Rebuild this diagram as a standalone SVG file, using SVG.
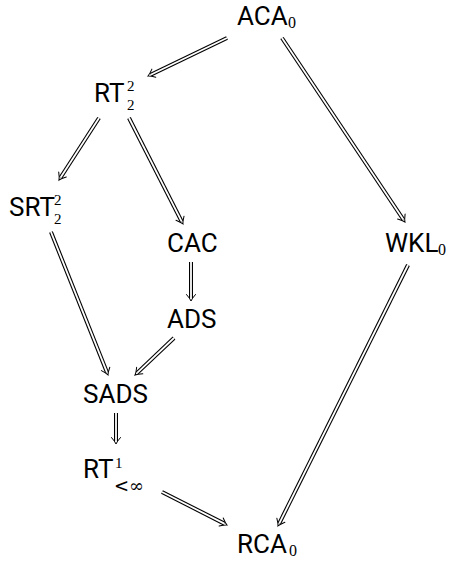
<svg xmlns="http://www.w3.org/2000/svg" width="449" height="562" viewBox="0 0 449 562">
<style>
text{font-family:Roboto,"Liberation Sans",sans-serif;font-size:26px;fill:#000}
.s{font-family:"Liberation Serif",serif;font-size:16px}
.t{font-family:"Liberation Serif",serif;font-size:15px}
.d{font-family:"DejaVu Serif",serif;font-size:18px}
.o{fill:none;stroke:#000;stroke-width:4}
.i{fill:none;stroke:#fff;stroke-width:1.8;marker-end:url(#ah)}
</style>
<defs>
<marker id="ah" markerUnits="userSpaceOnUse" viewBox="-8 -6 10 12" refX="-3" refY="0" markerWidth="10" markerHeight="12" orient="auto" overflow="visible">
<path d="M-6.5,-4.5 Q-2.5,-1 0,0 Q-2.5,1 -6.5,4.5" fill="none" stroke="#000" stroke-width="1" stroke-linecap="round"/>
</marker>
</defs>
<g id="ACA0"><text x="237" y="25">ACA<tspan class="s" x="288" y="28">0</tspan></text></g>
<g id="RT22"><text x="94" y="102">RT<tspan class="t" x="127" y="90.5">2</tspan><tspan class="t" x="127" y="109.5">2</tspan></text></g>
<g id="SRT22"><text x="9" y="216">SRT<tspan class="t" x="54" y="204.5">2</tspan><tspan class="t" x="54" y="223.5">2</tspan></text></g>
<g id="CAC"><text x="167" y="252">CAC</text></g>
<g id="WKL0"><text x="385" y="252">WKL<tspan class="s" x="438" y="255">0</tspan></text></g>
<g id="ADS"><text x="167" y="328">ADS</text></g>
<g id="SADS"><text x="83" y="403">SADS</text></g>
<g id="RT1"><text x="83" y="478">RT<tspan class="t" x="115" y="468">1</tspan><tspan class="d" x="114" y="492">&lt;∞</tspan></text></g>
<g id="RCA0"><text x="237" y="553">RCA<tspan class="s" x="289" y="556">0</tspan></text></g>
<g id="connectors">
<path class="o" d="M227,38L150.7,74.7"/><path class="i" d="M227,38L150.7,74.7"/>
<path class="o" d="M282,38L403.3,219.5"/><path class="i" d="M282,38L403.3,219.5"/>
<path class="o" d="M99,118L60.6,177.5"/><path class="i" d="M99,118L60.6,177.5"/>
<path class="o" d="M129,118L181.6,221.3"/><path class="i" d="M129,118L181.6,221.3"/>
<path class="o" d="M191,262L191,298"/><path class="i" d="M191,262L191,298"/>
<path class="o" d="M408,265L279.3,523.3"/><path class="i" d="M408,265L279.3,523.3"/>
<path class="o" d="M51,232L106.9,372.2"/><path class="i" d="M51,232L106.9,372.2"/>
<path class="o" d="M174,338L137.2,372.9"/><path class="i" d="M174,338L137.2,372.9"/>
<path class="o" d="M116,413L116,441"/><path class="i" d="M116,413L116,441"/>
<path class="o" d="M162,492L224.3,523.6"/><path class="i" d="M162,492L224.3,523.6"/>
</g>
</svg>
